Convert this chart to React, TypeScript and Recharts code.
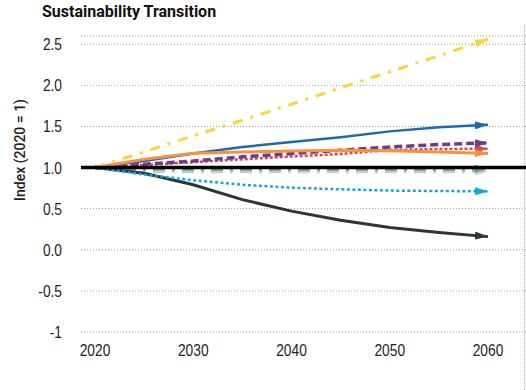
import React from "react";
import { LineChart, Line, XAxis, YAxis, CartesianGrid, ReferenceLine } from "recharts";

const years = [2020, 2025, 2030, 2035, 2040, 2045, 2050, 2055, 2060];
const yellowSeries = [1.0, 1.19, 1.385, 1.575, 1.77, 1.97, 2.165, 2.36, 2.56];
const blueSeries = [1.0, 1.08, 1.17, 1.25, 1.31, 1.37, 1.44, 1.49, 1.52];
const orangeSeries = [1.0, 1.1, 1.175, 1.19, 1.2, 1.21, 1.205, 1.19, 1.17];
const purpleSeries = [1.0, 1.04, 1.08, 1.13, 1.17, 1.21, 1.25, 1.28, 1.3];
const redSeries = [1.0, 1.03, 1.065, 1.1, 1.135, 1.165, 1.215, 1.225, 1.23];
const greenSeries = [1.0, 0.99, 0.985, 0.985, 0.985, 0.985, 0.985, 0.985, 0.985];
const greySeries = [1.0, 0.96, 0.955, 0.955, 0.955, 0.955, 0.955, 0.955, 0.955];
const cyanSeries = [1.0, 0.915, 0.845, 0.79, 0.755, 0.735, 0.72, 0.715, 0.71];
const darkSeries = [1.0, 0.93, 0.79, 0.61, 0.47, 0.36, 0.27, 0.21, 0.16];

const xTicks = [2020, 2030, 2040, 2050, 2060];
const yTicks = [-1, -0.5, 0, 0.5, 1, 1.5, 2, 2.5];
const yTickLabels = ["-1", "-0.5", "0.0", "0.5", "1.0", "1.5", "2.0", "2.5"];

const data = years.map((year, i) => ({
  year,
  yellow: yellowSeries[i],
  blue: blueSeries[i],
  orange: orangeSeries[i],
  purple: purpleSeries[i],
  red: redSeries[i],
  green: greenSeries[i],
  grey: greySeries[i],
  cyan: cyanSeries[i],
  dark: darkSeries[i],
}));

const series = [
  { key: "grey", color: "#C8CCD2", width: 4, dash: "12 7 3 7" },
  { key: "green", color: "#62A570", width: 4, dash: "12 7 3 7" },
  { key: "dark", color: "#2A363B", width: 3, dash: undefined },
  { key: "cyan", color: "#14A6DC", width: 2.5, dash: "3 2.5" },
  { key: "red", color: "#E2404F", width: 2.5, dash: "3 2" },
  { key: "purple", color: "#6C3D8E", width: 3.5, dash: "8 4" },
  { key: "blue", color: "#1F66B5", width: 2.5, dash: undefined },
  { key: "orange", color: "#F7923A", width: 3, dash: undefined },
  { key: "yellow", color: "#F8D53A", width: 3, dash: "10 8 3 8" },
];

const tickFont = "'Liberation Sans', Arial, sans-serif";

function NarrowTick(props: any) {
  const { x, y, payload, textAnchor, orientation } = props;
  const label =
    orientation === "left"
      ? yTickLabels[yTicks.indexOf(payload.value)] ?? String(payload.value)
      : String(payload.value);
  const dy = orientation === "left" ? 6 : 12;
  return (
    <g transform={`translate(${x},${y})`}>
      <text
        transform="scale(0.86,1)"
        textAnchor={textAnchor}
        dy={dy}
        fill="#222"
        style={{ fontFamily: tickFont, fontSize: 16 }}
      >
        {label}
      </text>
    </g>
  );
}

export default function App() {
  return (
    <div style={{ position: "absolute", left: 0, top: 0, width: 526, height: 390, background: "#fff" }}>
      <div
        style={{
          position: "absolute",
          left: 42,
          top: 2,
          fontFamily: "Roboto, sans-serif",
          fontWeight: 700,
          fontSize: 16,
          color: "#111",
          whiteSpace: "nowrap",
        }}
      >
        Sustainability Transition
      </div>
      <div
        style={{
          position: "absolute",
          left: 524,
          top: 25,
          height: 365,
          borderLeft: "1px dotted #aaa",
        }}
      />
      <LineChart width={526} height={390} data={data} margin={{ top: 36, right: 0, left: 0, bottom: 28 }}>
        <defs>
          {series.map((s) => (
            <marker
              key={s.key}
              id={`arrow-${s.key}`}
              viewBox="0 0 13 8"
              refX={13}
              refY={4}
              markerWidth={13}
              markerHeight={8}
              markerUnits="userSpaceOnUse"
              orient="auto"
            >
              <path d="M0,0 L13,4 L0,8 Z" fill={s.color} />
            </marker>
          ))}
        </defs>
        <CartesianGrid vertical={false} stroke="#999" strokeDasharray="1 2" />
        <XAxis
          dataKey="year"
          type="number"
          domain={[2020, 2060]}
          ticks={xTicks}
          padding={{ left: 14, right: 38 }}
          axisLine={false}
          tickLine={false}
          tickSize={0}
          tickMargin={12}
          height={30}
          tick={<NarrowTick />}
        />
        <YAxis
          type="number"
          domain={[-1, 2.6]}
          ticks={yTicks}
          axisLine={false}
          tickLine={false}
          tickSize={0}
          tickMargin={19}
          width={81}
          tick={<NarrowTick />}
          label={{
            content: () => (
              <text
                x={20}
                y={150}
                transform="rotate(-90 20 150)"
                textAnchor="middle"
                dominantBaseline="central"
                style={{ fontFamily: "Roboto, sans-serif", fontSize: 14, fontWeight: 500, fill: "#222" }}
              >
                Index (2020 = 1)
              </text>
            ),
          }}
        />
        {series.map((s) => (
          <Line
            key={s.key}
            dataKey={s.key}
            type="linear"
            stroke={s.color}
            strokeWidth={s.width}
            strokeDasharray={s.dash}
            dot={false}
            activeDot={false}
            isAnimationActive={false}
            markerEnd={`url(#arrow-${s.key})`}
          />
        ))}
        <ReferenceLine y={1} stroke="#000" strokeWidth={3.5} />
      </LineChart>
    </div>
  );
}
